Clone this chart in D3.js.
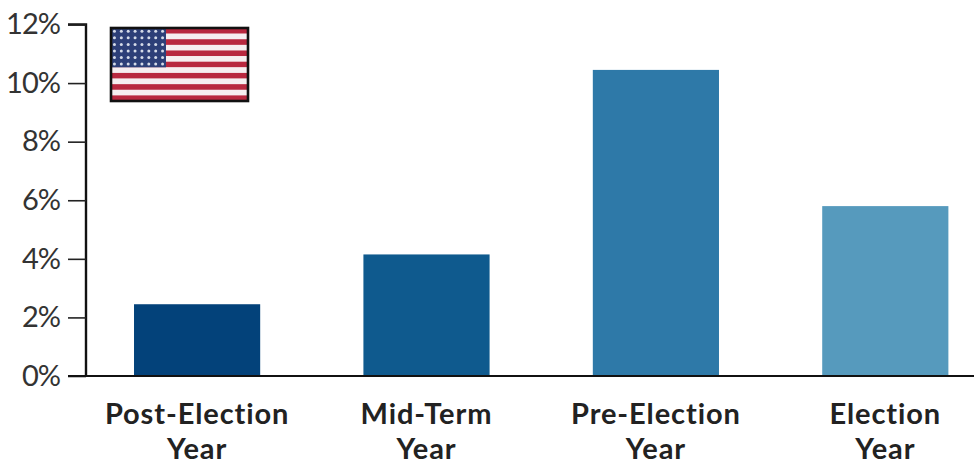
<!DOCTYPE html>
<html>
<head>
<meta charset="utf-8">
<script src="https://cdn.jsdelivr.net/npm/d3@7/dist/d3.min.js"></script>
<style>
  html, body { margin: 0; padding: 0; background: #fff; }
  svg { display: block; }
  text { font-family: Lato, "Open Sans", sans-serif; }
</style>
</head>
<body>
<svg id="chart" width="974" height="464"></svg>
<script>
const categories = ["Post-Election", "Mid-Term", "Pre-Election", "Election"];
const secondLine = ["Year", "Year", "Year", "Year"];
const returns = [2.45, 4.15, 10.45, 5.8];
const barColors = ["#03427a", "#0f5a8e", "#2e79a8", "#569abd"];
const yTicks = [0, 2, 4, 6, 8, 10, 12];
const stripeIndex = d3.range(13);
const starRows = d3.range(6);
const starCols = d3.range(8);

const svg = d3.select("#chart");

const x = d3.scaleBand().domain(categories).range([82.4, 1000]).paddingInner(0.45).paddingOuter(0.225);
const y = d3.scaleLinear().domain([0, 12]).range([376, 24.5]);

// Bars
svg.append("g").selectAll("rect").data(categories).join("rect")
  .attr("x", d => x(d))
  .attr("width", x.bandwidth())
  .attr("y", (d, i) => y(returns[i]))
  .attr("height", (d, i) => y(0) - y(returns[i]))
  .attr("fill", (d, i) => barColors[i]);

// Value axis
const yAxis = svg.append("g").attr("transform", "translate(86,0)")
  .call(d3.axisLeft(y).tickValues(yTicks).tickFormat(d => d + "%").tickSize(18).tickPadding(8));
yAxis.select(".domain").attr("stroke", "#111").attr("stroke-width", 2.4).attr("d", `M-18,${y(12)}H0V${y(0)}`);
yAxis.selectAll(".tick line").attr("stroke", "#222").attr("stroke-width", 1.6);
yAxis.selectAll(".tick text")
  .attr("font-size", 29).attr("font-weight", 400).attr("fill", "#333")
  .style("font-family", "Lato, sans-serif").style("letter-spacing", "-1px");

// Baseline
svg.append("line").attr("x1", 68).attr("x2", 974).attr("y1", y(0)).attr("y2", y(0))
  .attr("stroke", "#111").attr("stroke-width", 2);

// Category labels on two lines
const labels = svg.append("g").attr("text-anchor", "middle").attr("fill", "#222")
  .attr("font-size", 29).attr("font-weight", 700).style("letter-spacing", "0.9px");
labels.selectAll("text.first").data(categories).join("text").attr("class", "first")
  .attr("x", d => x(d) + x.bandwidth() / 2).attr("y", 424).text(d => d);
labels.selectAll("text.second").data(categories).join("text").attr("class", "second")
  .attr("x", d => x(d) + x.bandwidth() / 2).attr("y", 458.5).text((d, i) => secondLine[i]);

// Flag emblem in the upper left of the plot
const flag = svg.append("g").attr("transform", "translate(111,28)");
const flagW = 137, flagH = 73;
const stripeY = d3.scaleBand().domain(stripeIndex).range([0, flagH]);
flag.append("g").selectAll("rect").data(stripeIndex).join("rect")
  .attr("x", 0).attr("width", flagW)
  .attr("y", d => stripeY(d)).attr("height", stripeY.bandwidth() + 0.2)
  .attr("fill", d => d % 2 ? "#f6eef0" : "#b8283f");
const cantonW = 55, cantonH = stripeY(7);
flag.append("rect").attr("width", cantonW).attr("height", cantonH).attr("fill", "#2d3f78");
const starX = d3.scalePoint().domain(starCols).range([0, cantonW]).padding(0.5);
const starY = d3.scalePoint().domain(starRows).range([0, cantonH]).padding(0.5);
flag.append("g").selectAll("g").data(starRows).join("g").each(function (r) {
  d3.select(this).selectAll("circle").data(starCols).join("circle")
    .attr("cx", c => starX(c)).attr("cy", starY(r)).attr("r", 1.5).attr("fill", "#d5dbe8");
});
flag.append("rect").attr("width", flagW).attr("height", flagH)
  .attr("fill", "none").attr("stroke", "#111").attr("stroke-width", 2.6);
</script>
</body>
</html>
